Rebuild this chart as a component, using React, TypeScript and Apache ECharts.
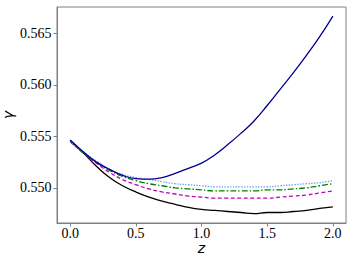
import React, { useEffect, useRef } from "react";
import * as echarts from "echarts";

const zValues = [0, 0.1, 0.2, 0.3, 0.4, 0.5, 0.6, 0.7, 0.8, 0.9, 1.0, 1.1, 1.2, 1.3, 1.4, 1.5, 1.6, 1.7, 1.8, 1.9, 2.0];

const blueSolid = [0.55465, 0.5535, 0.5525, 0.5518, 0.5512, 0.5509, 0.55085, 0.551, 0.5514, 0.5519, 0.5524, 0.5532, 0.5542, 0.5553, 0.5565, 0.558, 0.5596, 0.5612, 0.5629, 0.5647, 0.5667];
const cornflowerDotted = [0.5545, 0.5535, 0.5526, 0.5518, 0.5513, 0.551, 0.5508, 0.5506, 0.5504, 0.5503, 0.5502, 0.5501, 0.5501, 0.5501, 0.5501, 0.5501, 0.5502, 0.5503, 0.5504, 0.5505, 0.5507];
const greenDashDot = [0.5545, 0.5534, 0.5525, 0.5517, 0.5511, 0.5507, 0.5504, 0.5502, 0.55, 0.5499, 0.5498, 0.5497, 0.5497, 0.5497, 0.5497, 0.5498, 0.5498, 0.5499, 0.55, 0.5502, 0.5504];
const magentaDashed = [0.5545, 0.5534, 0.5524, 0.5515, 0.5508, 0.5503, 0.5499, 0.5496, 0.5494, 0.5492, 0.5491, 0.549, 0.549, 0.549, 0.549, 0.549, 0.5491, 0.5492, 0.5493, 0.5495, 0.5497];
const blackSolid = [0.5546, 0.5534, 0.5521, 0.551, 0.5502, 0.5496, 0.5491, 0.5487, 0.5484, 0.5481, 0.5479, 0.5478, 0.5477, 0.5476, 0.5475, 0.5476, 0.5476, 0.5477, 0.5478, 0.548, 0.54815];

const xTicks = [0, 0.5, 1.0, 1.5, 2.0];
const yTicks = [0.55, 0.555, 0.56, 0.565];
const xTickLabels = ["0.0", "0.5", "1.0", "1.5", "2.0"];
const yTickLabels = ["0.550", "0.555", "0.560", "0.565"];

const pair = (ys: number[]) => zValues.map((z, i) => [z, ys[i]]);

export default function App() {
  const ref = useRef<HTMLDivElement>(null);
  useEffect(() => {
    if (!ref.current) return;
    const chart = echarts.init(ref.current, undefined, { renderer: "svg" });
    const axisColor = "#808080";
    const labelFontStr = "14px 'Liberation Serif', 'Times New Roman', serif";
    const mk = (name: string, data: number[], color: string, type: any) => ({
      name,
      type: "line",
      data: pair(data),
      smooth: true,
      showSymbol: false,
      symbol: "none",
      lineStyle: { color, width: 1.3, type },
      z: 2,
    });
    chart.setOption({
      animation: false,
      grid: { left: 57, right: 8, top: 7, bottom: 37, show: true, borderColor: axisColor, borderWidth: 1, containLabel: false, outerBoundsMode: "none" },
      xAxis: {
        type: "value",
        min: -0.1,
        max: 2.1,
        name: "z",
        nameLocation: "middle",
        nameGap: 18,
        nameMoveOverlap: false,
        nameTextStyle: { fontFamily: "DejaVu Sans", fontStyle: "italic", fontSize: 14, color: "#000" },
        axisLine: { show: true, onZero: false, lineStyle: { color: axisColor } },
        axisTick: { show: true, inside: false, length: 3.5, lineStyle: { color: axisColor }, customValues: xTicks },
        axisLabel: { show: false },
        splitLine: { show: false },
      },
      yAxis: {
        type: "value",
        min: 0.54658,
        max: 0.56758,
        name: "γ",
        nameLocation: "middle",
        nameRotate: 90,
        nameGap: 42,
        nameMoveOverlap: false,
        nameTextStyle: { fontFamily: "DejaVu Sans", fontStyle: "italic", fontSize: 14, color: "#000" },
        axisLine: { show: true, onZero: false, lineStyle: { color: axisColor } },
        axisTick: { show: true, inside: false, length: 3.5, lineStyle: { color: axisColor }, customValues: yTicks },
        axisLabel: { show: false },
        splitLine: { show: false },
      },
      series: [
        mk("black", blackSolid, "#000000", "solid"),
        mk("magenta", magentaDashed, "#bf00bf", [4, 2.5]),
        mk("green", greenDashDot, "#008000", [6, 2, 1.5, 2]),
        mk("cornflower", cornflowerDotted, "#6495ed", [1.3, 1.5]),
        mk("blue", blueSolid, "#00008b", "solid"),
      ],
    });

    const yAxisPx = chart.convertToPixel({ xAxisIndex: 0 }, -0.1) as number;
    const xAxisPx = chart.convertToPixel({ yAxisIndex: 0 }, 0.54658) as number;
    const labels: any[] = [];
    xTicks.forEach((v, i) => {
      const px = chart.convertToPixel({ xAxisIndex: 0 }, v) as number;
      labels.push({
        type: "text",
        x: px,
        y: xAxisPx + 10,
        style: { text: xTickLabels[i], font: labelFontStr, fill: "#000", align: "center", verticalAlign: "middle" },
      });
    });
    yTicks.forEach((v, i) => {
      const py = chart.convertToPixel({ yAxisIndex: 0 }, v) as number;
      labels.push({
        type: "text",
        x: yAxisPx - 5.5,
        y: py,
        style: { text: yTickLabels[i], font: labelFontStr, fill: "#000", align: "right", verticalAlign: "middle" },
      });
    });
    chart.setOption({ graphic: labels });
    return () => chart.dispose();
  }, []);
  return <div ref={ref} style={{ position: "absolute", left: 0, top: 0, width: 354, height: 260 }} />;
}
